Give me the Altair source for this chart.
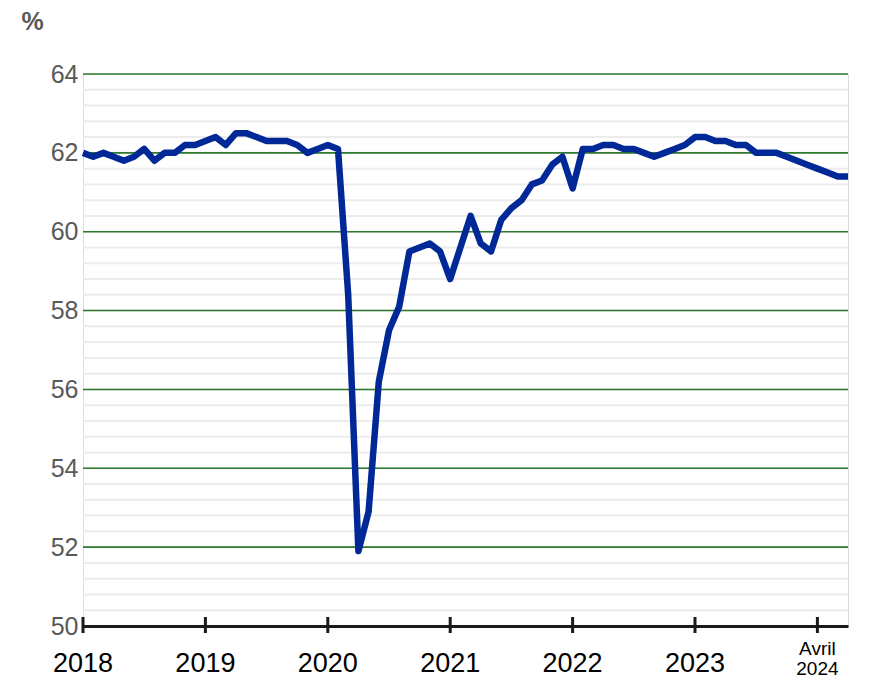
import altair as alt
import pandas as pd

# Monthly values, January 2018 to April 2024 (%)
values = [
    62.0, 61.9, 62.0, 61.9, 61.8, 61.9, 62.1, 61.8, 62.0, 62.0, 62.2, 62.2,  # 2018
    62.3, 62.4, 62.2, 62.5, 62.5, 62.4, 62.3, 62.3, 62.3, 62.2, 62.0, 62.1,  # 2019
    62.2, 62.1, 58.4, 51.9, 52.9, 56.2, 57.5, 58.1, 59.5, 59.6, 59.7, 59.5,  # 2020
    58.8, 59.6, 60.4, 59.7, 59.5, 60.3, 60.6, 60.8, 61.2, 61.3, 61.7, 61.9,  # 2021
    61.1, 62.1, 62.1, 62.2, 62.2, 62.1, 62.1, 62.0, 61.9, 62.0, 62.1, 62.2,  # 2022
    62.4, 62.4, 62.3, 62.3, 62.2, 62.2, 62.0, 62.0, 62.0, 61.9, 61.8, 61.7,  # 2023
    61.6, 61.5, 61.4, 61.4,                                                  # 2024
]
month_index = list(range(len(values)))

tick_positions = [0, 12, 24, 36, 48, 60, 72]
year_labels = ["2018", "2019", "2020", "2021", "2022", "2023"]
year_label_positions = [0, 12, 24, 36, 48, 60]
last_label_top = "Avril"
last_label_bottom = "2024"
last_label_position = 72

x_start, x_end = 0, 75
major_grid = [52, 54, 56, 58, 60, 62, 64]
minor_grid = [round(50 + 0.4 * i, 1) for i in range(1, 35)]

df = pd.DataFrame({"m": month_index, "v": values})
ticks_df = pd.DataFrame({"m": tick_positions})
years_df = pd.DataFrame({"m": year_label_positions, "label": year_labels})
last_df = pd.DataFrame({"m": [last_label_position], "top": [last_label_top], "bottom": [last_label_bottom]})
minor_df = pd.DataFrame({"y": minor_grid, "x0": x_start, "x1": x_end})
major_df = pd.DataFrame({"y": major_grid, "x0": x_start, "x1": x_end})

W, H = 765, 552
xscale = alt.Scale(domain=[x_start, x_end], nice=False, zero=False)
yscale = alt.Scale(domain=[50, 64], nice=False, zero=False)

minor = alt.Chart(minor_df).mark_rule(color="#ececec", strokeWidth=2).encode(
    y=alt.Y("y:Q", scale=yscale),
    x=alt.X("x0:Q", scale=xscale),
    x2="x1:Q",
)
major = alt.Chart(major_df).mark_rule(color="#2e7a2e", strokeWidth=1.6).encode(
    y=alt.Y("y:Q", scale=yscale),
    x=alt.X("x0:Q", scale=xscale),
    x2="x1:Q",
)
tick_marks = alt.Chart(ticks_df).mark_rule(color="#1a1a1a", strokeWidth=3).encode(
    x=alt.X("m:Q", scale=xscale),
    y=alt.value(H - 9),
    y2=alt.value(H + 7),
)

line = alt.Chart(df).mark_line(
    color="#002896", strokeWidth=6.5, strokeJoin="round", strokeCap="butt"
).encode(
    x=alt.X(
        "m:Q",
        scale=xscale,
        axis=alt.Axis(
            domain=True, domainColor="#1a1a1a", domainWidth=3,
            ticks=False, labels=False, grid=False, title=None,
        ),
    ),
    y=alt.Y(
        "v:Q",
        scale=yscale,
        axis=alt.Axis(
            values=[50, 52, 54, 56, 58, 60, 62, 64],
            domain=False,
            ticks=False,
            grid=False,
            labelFont="Liberation Sans",
            labelFontSize=25,
            labelColor="#595959",
            labelPadding=5,
            title="%",
            titleAngle=0,
            titleX=-51,
            titleY=-53,
            titleAlign="center",
            titleBaseline="middle",
            titleFont="Liberation Sans",
            titleFontSize=25,
            titleFontWeight="bold",
            titleColor="#595959",
        ),
    ),
)

year_text = alt.Chart(years_df).mark_text(
    font="Liberation Sans", fontSize=27, color="#000000",
    baseline="middle", align="center",
).encode(
    x=alt.X("m:Q", scale=xscale),
    y=alt.value(H + 38),
    text="label:N",
)
last_top = alt.Chart(last_df).mark_text(
    font="Liberation Sans", fontSize=19, color="#000000",
    baseline="middle", align="center",
).encode(
    x=alt.X("m:Q", scale=xscale),
    y=alt.value(H + 23),
    text="top:N",
)
last_bottom = alt.Chart(last_df).mark_text(
    font="Liberation Sans", fontSize=19, color="#000000",
    baseline="middle", align="center",
).encode(
    x=alt.X("m:Q", scale=xscale),
    y=alt.value(H + 43),
    text="bottom:N",
)

chart = alt.layer(
    minor, major, line, tick_marks, year_text, last_top, last_bottom
).properties(
    width=W,
    height=H,
    autosize=alt.AutoSizeParams(type="none"),
    padding={"left": 75, "top": 66, "right": 13, "bottom": 56},
).configure_view(stroke=None).configure(background="white")

chart.save("out.html", embed_options={"renderer": "svg", "actions": False})
